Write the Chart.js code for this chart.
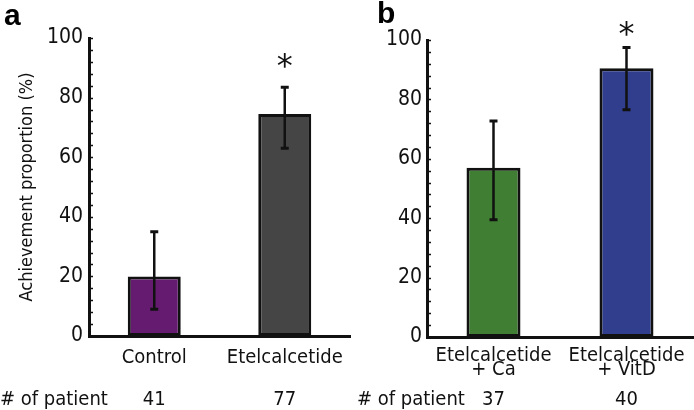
<!DOCTYPE html>
<html>
<head>
<meta charset="utf-8">
<script src="https://cdn.jsdelivr.net/npm/chart.js@4/dist/chart.umd.min.js"></script>
<style>
  body { margin: 0; background: #fff; }
  #wrap { position: relative; width: 694px; height: 410px; overflow: hidden; }
  canvas { position: absolute; top: 0; }
  .panel { position: absolute; font: bold 30px "Liberation Sans", Arial, sans-serif; line-height: 30px; color: #000; }
  .npat { position: absolute; font: 20px "Liberation Sans Narrow", "DejaVu Sans Condensed", sans-serif; line-height: 20px; color: #111; }
</style>
</head>
<body>
<div id="wrap">
  <canvas id="chartA" width="352" height="410" style="left:0"></canvas>
  <canvas id="chartB" width="342" height="410" style="left:352px"></canvas>
  <div class="panel" style="left:4px; top:0">a</div>
  <div class="panel" style="left:377px; top:-2px">b</div>
  <div class="npat" style="left:0; top:388px"># of patient</div>
  <div class="npat" style="left:357px; top:388px"># of patient</div>
</div>
<script>
// panel a
const labelsA = ['Control', 'Etelcalcetide'];
const valuesA = [20, 74.5];
const lowA = [9, 63];
const highA = [35, 83.5];
const patientsA = ['41', '77'];
const starA = [false, true];

// panel b
const labelsB = [['Etelcalcetide', '+ Ca'], ['Etelcalcetide', '+ VitD']];
const valuesB = [57, 90.5];
const lowB = [39.5, 76.5];
const highB = [72.7, 97.5];
const patientsB = ['37', '40'];
const starB = [false, true];

const yTicks = [0, 20, 40, 60, 80, 100];

const narrow = '"Liberation Sans Narrow", "DejaVu Sans Condensed", sans-serif';
const ink = '#111';

// error bars, stars and inward minor ticks
const extras = {
  id: 'extras',
  afterDatasetsDraw(chart, args, opts) {
    const ctx = chart.ctx;
    const y = chart.scales.y;
    const bars = chart.getDatasetMeta(0).data;
    ctx.save();
    ctx.strokeStyle = ink;
    bars.forEach((bar, i) => {
      const yl = y.getPixelForValue(opts.low[i]);
      const yh = y.getPixelForValue(opts.high[i]);
      ctx.lineWidth = 2.5;
      ctx.beginPath();
      ctx.moveTo(bar.x, yl);
      ctx.lineTo(bar.x, yh);
      ctx.stroke();
      ctx.lineWidth = 3;
      ctx.beginPath();
      ctx.moveTo(bar.x - 4, yl); ctx.lineTo(bar.x + 4, yl);
      ctx.moveTo(bar.x - 4, yh); ctx.lineTo(bar.x + 4, yh);
      ctx.stroke();
      if (opts.star[i]) {
        ctx.fillStyle = ink;
        ctx.font = '32px "DejaVu Sans", sans-serif';
        ctx.textAlign = 'center';
        ctx.textBaseline = 'middle';
        ctx.fillText('*', bar.x, yh - opts.starGap + 7);
      }
    });
    // minor ticks inside the axis
    ctx.lineWidth = 1.5;
    ctx.beginPath();
    y.ticks.forEach(t => {
      const py = Math.round(y.getPixelForValue(t.value)) + 0.5;
      ctx.moveTo(chart.chartArea.left, py);
      ctx.lineTo(chart.chartArea.left + 4, py);
    });
    ctx.stroke();
    ctx.restore();
  }
};

function makeChart(id, cfg) {
  return new Chart(document.getElementById(id), {
    type: 'bar',
    data: {
      labels: cfg.labels,
      datasets: [{
        data: cfg.values,
        backgroundColor: cfg.colors,
        borderColor: ink,
        borderWidth: 3,
        borderSkipped: false,
        barPercentage: 0.406,
        categoryPercentage: 1
      }]
    },
    options: {
      responsive: false,
      animation: false,
      layout: { padding: { top: cfg.top, right: cfg.right, left: 0, bottom: 0 } },
      plugins: {
        legend: { display: false },
        tooltip: { enabled: false },
        extras: { low: cfg.low, high: cfg.high, star: cfg.star, starGap: cfg.starGap }
      },
      scales: {
        x: {
          weight: 1,
          grid: { display: false },
          border: { display: true, color: ink, width: 3 },
          ticks: { color: ink, padding: cfg.xPad, font: { family: narrow, size: 20, lineHeight: 0.74 }, maxRotation: 0, autoSkip: false },
          afterFit: s => { s.height = cfg.xH; }
        },
        x2: {
          type: 'category',
          position: 'bottom',
          weight: 2,
          labels: cfg.patients,
          grid: { display: false },
          border: { display: false },
          ticks: { color: ink, padding: 0, font: { family: narrow, size: 20 } },
          afterFit: s => { s.height = 410 - cfg.bottom - cfg.xH; }
        },
        y: {
          min: 0,
          max: 100,
          grid: { display: false, tickLength: 0 },
          border: { display: true, color: ink, width: 3 },
          ticks: {
            stepSize: 4,
            autoSkip: false,
            padding: cfg.tickPad,
            color: ink,
            font: { family: narrow, size: 21 },
            callback: v => yTicks.includes(v) ? v : ''
          },
          title: cfg.yTitle ? {
            display: true,
            text: cfg.yTitle,
            color: ink,
            font: { family: narrow, size: 18 },
            padding: { top: 17, bottom: 0 }
          } : { display: false },
          afterFit: s => { s.width = cfg.yW; }
        }
      }
    },
    plugins: [extras]
  });
}

makeChart('chartA', {
  labels: labelsA, values: valuesA, low: lowA, high: highA, star: starA, patients: patientsA,
  colors: ['#651c70', '#454545'],
  top: 38, bottom: 336, right: 2, xH: 44, xPad: 6, yW: 89, tickPad: 6, starGap: 26,
  yTitle: 'Achievement proportion (%)'
});

makeChart('chartB', {
  labels: labelsB, values: valuesB, low: lowB, high: highB, star: starB, patients: patientsB,
  colors: ['#3f7e33', '#313e8e'],
  top: 40, bottom: 337, right: 1, xH: 43, xPad: 3, yW: 75, tickPad: 5, starGap: 19,
  yTitle: null
});
</script>
</body>
</html>
